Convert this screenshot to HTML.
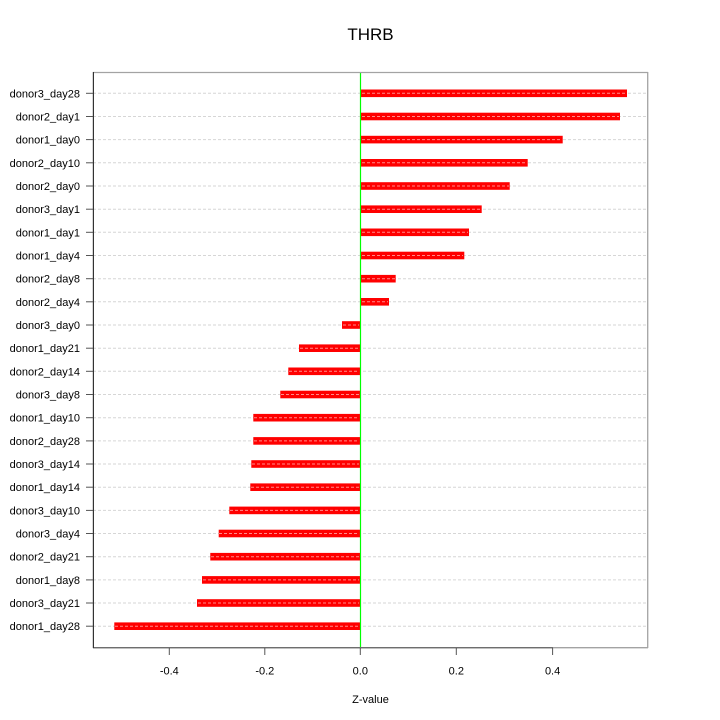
<!DOCTYPE html>
<html><head><meta charset="utf-8"><style>
html,body{margin:0;padding:0;background:#fff;}
svg{display:block;}
text{font-family:"Liberation Sans",Arial,sans-serif;fill:#000;}
</style></head><body>
<svg width="720" height="720" viewBox="0 0 720 720" xmlns="http://www.w3.org/2000/svg">
<rect width="720" height="720" fill="#fff"/>
<text x="370.5" y="40" font-size="17" text-anchor="middle">THRB</text>
<g id="grid" stroke="#d6d6d6" stroke-width="1" stroke-dasharray="3,2">
<line x1="93" x2="648" y1="93.3" y2="93.3"/>
<line x1="93" x2="648" y1="116.5" y2="116.5"/>
<line x1="93" x2="648" y1="139.6" y2="139.6"/>
<line x1="93" x2="648" y1="162.8" y2="162.8"/>
<line x1="93" x2="648" y1="186.0" y2="186.0"/>
<line x1="93" x2="648" y1="209.2" y2="209.2"/>
<line x1="93" x2="648" y1="232.3" y2="232.3"/>
<line x1="93" x2="648" y1="255.5" y2="255.5"/>
<line x1="93" x2="648" y1="278.7" y2="278.7"/>
<line x1="93" x2="648" y1="301.8" y2="301.8"/>
<line x1="93" x2="648" y1="325.0" y2="325.0"/>
<line x1="93" x2="648" y1="348.2" y2="348.2"/>
<line x1="93" x2="648" y1="371.3" y2="371.3"/>
<line x1="93" x2="648" y1="394.5" y2="394.5"/>
<line x1="93" x2="648" y1="417.7" y2="417.7"/>
<line x1="93" x2="648" y1="440.9" y2="440.9"/>
<line x1="93" x2="648" y1="464.0" y2="464.0"/>
<line x1="93" x2="648" y1="487.2" y2="487.2"/>
<line x1="93" x2="648" y1="510.4" y2="510.4"/>
<line x1="93" x2="648" y1="533.5" y2="533.5"/>
<line x1="93" x2="648" y1="556.7" y2="556.7"/>
<line x1="93" x2="648" y1="579.9" y2="579.9"/>
<line x1="93" x2="648" y1="603.0" y2="603.0"/>
<line x1="93" x2="648" y1="626.2" y2="626.2"/>
</g>
<g id="bars" fill="#ff0000">
<rect x="360.3" y="89.5" width="266.7" height="7.6"/>
<rect x="360.3" y="112.7" width="259.7" height="7.6"/>
<rect x="360.3" y="135.8" width="202.4" height="7.6"/>
<rect x="360.3" y="159.0" width="167.4" height="7.6"/>
<rect x="360.3" y="182.2" width="149.4" height="7.6"/>
<rect x="360.3" y="205.4" width="121.4" height="7.6"/>
<rect x="360.3" y="228.5" width="108.7" height="7.6"/>
<rect x="360.3" y="251.7" width="104.0" height="7.6"/>
<rect x="360.3" y="274.9" width="35.4" height="7.6"/>
<rect x="360.3" y="298.0" width="28.7" height="7.6"/>
<rect x="342" y="321.2" width="18.3" height="7.6"/>
<rect x="299" y="344.4" width="61.3" height="7.6"/>
<rect x="288.3" y="367.5" width="72.0" height="7.6"/>
<rect x="280.3" y="390.7" width="80.0" height="7.6"/>
<rect x="253.3" y="413.9" width="107.0" height="7.6"/>
<rect x="253.3" y="437.1" width="107.0" height="7.6"/>
<rect x="251.3" y="460.2" width="109.0" height="7.6"/>
<rect x="250.3" y="483.4" width="110.0" height="7.6"/>
<rect x="229.3" y="506.6" width="131.0" height="7.6"/>
<rect x="218.7" y="529.7" width="141.6" height="7.6"/>
<rect x="210.3" y="552.9" width="150.0" height="7.6"/>
<rect x="202" y="576.1" width="158.3" height="7.6"/>
<rect x="197" y="599.2" width="163.3" height="7.6"/>
<rect x="114.3" y="622.4" width="246.0" height="7.6"/>
</g>
<g id="bardash" stroke="#ff8a8a" stroke-width="1" stroke-dasharray="3,2">
<line x1="362" x2="626" y1="93.3" y2="93.3"/>
<line x1="362" x2="619" y1="116.5" y2="116.5"/>
<line x1="362" x2="562" y1="139.6" y2="139.6"/>
<line x1="362" x2="527" y1="162.8" y2="162.8"/>
<line x1="362" x2="509" y1="186.0" y2="186.0"/>
<line x1="362" x2="481" y1="209.2" y2="209.2"/>
<line x1="362" x2="468" y1="232.3" y2="232.3"/>
<line x1="362" x2="463" y1="255.5" y2="255.5"/>
<line x1="362" x2="395" y1="278.7" y2="278.7"/>
<line x1="362" x2="388" y1="301.8" y2="301.8"/>
<line x1="343" x2="359" y1="325.0" y2="325.0"/>
<line x1="300" x2="359" y1="348.2" y2="348.2"/>
<line x1="289" x2="359" y1="371.3" y2="371.3"/>
<line x1="281" x2="359" y1="394.5" y2="394.5"/>
<line x1="254" x2="359" y1="417.7" y2="417.7"/>
<line x1="254" x2="359" y1="440.9" y2="440.9"/>
<line x1="252" x2="359" y1="464.0" y2="464.0"/>
<line x1="251" x2="359" y1="487.2" y2="487.2"/>
<line x1="230" x2="359" y1="510.4" y2="510.4"/>
<line x1="219" x2="359" y1="533.5" y2="533.5"/>
<line x1="211" x2="359" y1="556.7" y2="556.7"/>
<line x1="203" x2="359" y1="579.9" y2="579.9"/>
<line x1="198" x2="359" y1="603.0" y2="603.0"/>
<line x1="115" x2="359" y1="626.2" y2="626.2"/>
</g>
<line x1="360.5" x2="360.5" y1="72" y2="648" stroke="#00ff00" stroke-width="1.2"/>
<!-- box -->
<line x1="93" x2="648" y1="72.5" y2="72.5" stroke="#a3a3a3" stroke-width="1.3"/>
<line x1="647.7" x2="647.7" y1="72" y2="648" stroke="#a3a3a3" stroke-width="1.3"/>
<line x1="93" x2="648" y1="647.7" y2="647.7" stroke="#a3a3a3" stroke-width="1.3"/>
<line x1="93" x2="553" y1="647.7" y2="647.7" stroke="#6e6e6e" stroke-width="1.3"/>
<line x1="93.4" x2="93.4" y1="72" y2="648" stroke="#333" stroke-width="1.2"/>
<!-- y ticks -->
<g stroke="#555" stroke-width="1">
<line x1="86" x2="93" y1="93.3" y2="93.3"/>
<line x1="86" x2="93" y1="116.5" y2="116.5"/>
<line x1="86" x2="93" y1="139.6" y2="139.6"/>
<line x1="86" x2="93" y1="162.8" y2="162.8"/>
<line x1="86" x2="93" y1="186.0" y2="186.0"/>
<line x1="86" x2="93" y1="209.2" y2="209.2"/>
<line x1="86" x2="93" y1="232.3" y2="232.3"/>
<line x1="86" x2="93" y1="255.5" y2="255.5"/>
<line x1="86" x2="93" y1="278.7" y2="278.7"/>
<line x1="86" x2="93" y1="301.8" y2="301.8"/>
<line x1="86" x2="93" y1="325.0" y2="325.0"/>
<line x1="86" x2="93" y1="348.2" y2="348.2"/>
<line x1="86" x2="93" y1="371.3" y2="371.3"/>
<line x1="86" x2="93" y1="394.5" y2="394.5"/>
<line x1="86" x2="93" y1="417.7" y2="417.7"/>
<line x1="86" x2="93" y1="440.9" y2="440.9"/>
<line x1="86" x2="93" y1="464.0" y2="464.0"/>
<line x1="86" x2="93" y1="487.2" y2="487.2"/>
<line x1="86" x2="93" y1="510.4" y2="510.4"/>
<line x1="86" x2="93" y1="533.5" y2="533.5"/>
<line x1="86" x2="93" y1="556.7" y2="556.7"/>
<line x1="86" x2="93" y1="579.9" y2="579.9"/>
<line x1="86" x2="93" y1="603.0" y2="603.0"/>
<line x1="86" x2="93" y1="626.2" y2="626.2"/>
</g>
<!-- x ticks -->
<g stroke="#555" stroke-width="1">
<line x1="169.3" x2="169.3" y1="648" y2="655"/>
<line x1="264.8" x2="264.8" y1="648" y2="655"/>
<line x1="360.3" x2="360.3" y1="648" y2="655"/>
<line x1="456.3" x2="456.3" y1="648" y2="655"/>
<line x1="552.6" x2="552.6" y1="648" y2="655"/>
</g>
<g font-size="11" text-anchor="middle">
<text x="169.3" y="674.5">-0.4</text>
<text x="264.8" y="674.5">-0.2</text>
<text x="360.3" y="674.5">0.0</text>
<text x="456.3" y="674.5">0.2</text>
<text x="552.6" y="674.5">0.4</text>
<text x="370.5" y="703">Z-value</text>
</g>
<g font-size="11" text-anchor="end">
<text x="80" y="97.3">donor3_day28</text>
<text x="80" y="120.5">donor2_day1</text>
<text x="80" y="143.6">donor1_day0</text>
<text x="80" y="166.8">donor2_day10</text>
<text x="80" y="190.0">donor2_day0</text>
<text x="80" y="213.2">donor3_day1</text>
<text x="80" y="236.3">donor1_day1</text>
<text x="80" y="259.5">donor1_day4</text>
<text x="80" y="282.7">donor2_day8</text>
<text x="80" y="305.8">donor2_day4</text>
<text x="80" y="329.0">donor3_day0</text>
<text x="80" y="352.2">donor1_day21</text>
<text x="80" y="375.3">donor2_day14</text>
<text x="80" y="398.5">donor3_day8</text>
<text x="80" y="421.7">donor1_day10</text>
<text x="80" y="444.9">donor2_day28</text>
<text x="80" y="468.0">donor3_day14</text>
<text x="80" y="491.2">donor1_day14</text>
<text x="80" y="514.4">donor3_day10</text>
<text x="80" y="537.5">donor3_day4</text>
<text x="80" y="560.7">donor2_day21</text>
<text x="80" y="583.9">donor1_day8</text>
<text x="80" y="607.0">donor3_day21</text>
<text x="80" y="630.2">donor1_day28</text>
</g>
</svg>
</body></html>
